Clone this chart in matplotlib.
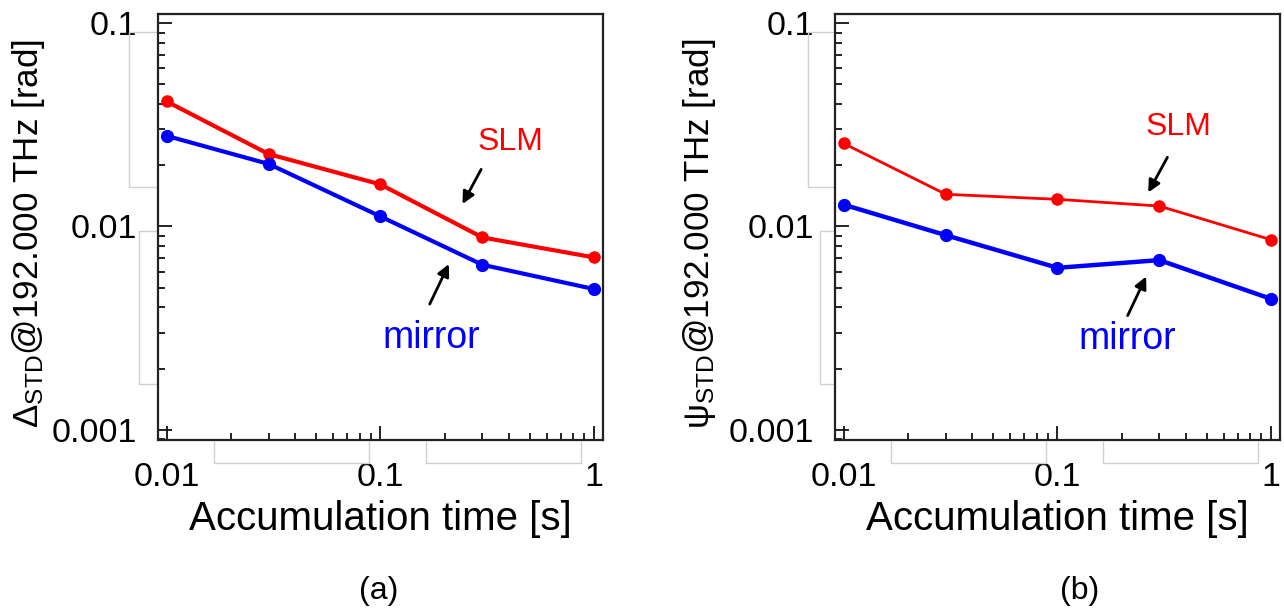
import matplotlib
matplotlib.use("Agg")
import matplotlib.pyplot as plt
from matplotlib.ticker import NullFormatter, LogLocator
from matplotlib.lines import Line2D

plt.rcParams['font.family'] = ['Liberation Sans', 'DejaVu Sans']
plt.rcParams['mathtext.fontset'] = 'custom'
plt.rcParams['mathtext.rm'] = 'Liberation Sans'
plt.rcParams['mathtext.it'] = 'Liberation Sans:italic'
plt.rcParams['mathtext.bf'] = 'Liberation Sans:bold'

# ---- data ----
acc_time = [0.01, 0.03, 0.1, 0.3, 1.0]
delta_slm = [0.0412, 0.0227, 0.0161, 0.00883, 0.00704]
delta_mirror = [0.0279, 0.0203, 0.0112, 0.00648, 0.00492]
psi_slm = [0.0256, 0.0144, 0.0136, 0.0126, 0.0086]
psi_mirror = [0.0128, 0.00906, 0.00626, 0.00683, 0.0044]

x_ticks = [0.01, 0.1, 1]
x_tick_labels = ["0.01", "0.1", "1"]
y_ticks = [0.001, 0.01, 0.1]
y_tick_labels = ["0.001", "0.01", "0.1"]

ylabels = ["Δ$_{\\mathrm{STD}}$@192.000 THz [rad]",
           "ψ$_{\\mathrm{STD}}$@192.000 THz [rad]"]
xlabel = "Accumulation time [s]"
panel_tags = ["(a)", "(b)"]

RED = "#ff0000"
BLUE = "#0000ff"

W, H = 1284, 611
fig = plt.figure(figsize=(W / 100, H / 100), dpi=100)

frames = [(158, 603), (835, 1280)]
top_px, bot_px = 14, 440

panels = [
    dict(slm=delta_slm, mirror=delta_mirror, lw_slm=3.0, lw_mir=3.0,
         slm_txt=(0.408, 0.0259), slm_arrow=((0.296, 0.0191), (0.242, 0.0129)),
         mir_txt=(0.173, 0.00284), mir_arrow=((0.17, 0.00415), (0.209, 0.00653)),
         ylabel_x=29, tag_x=379, brk=(-0.065, -0.042)),
    dict(slm=psi_slm, mirror=psi_mirror, lw_slm=2.0, lw_mir=3.2,
         slm_txt=(0.37, 0.0307), slm_arrow=((0.327, 0.0219), (0.266, 0.0147)),
         mir_txt=(0.213, 0.00279), mir_arrow=((0.213, 0.00364), (0.26, 0.00567)),
         ylabel_x=700, tag_x=1080, brk=(-0.061, -0.034)),
]

for i, (p, (l, r)) in enumerate(zip(panels, frames)):
    ax = fig.add_axes([l / W, 1 - bot_px / H, (r - l) / W, (bot_px - top_px) / H])
    ax.set_xscale('log')
    ax.set_yscale('log')
    ax.plot(acc_time, p['slm'], color=RED, lw=p['lw_slm'], marker='o', ms=8,
            solid_joinstyle='round')
    ax.plot(acc_time, p['mirror'], color=BLUE, lw=p['lw_mir'], marker='o', ms=8.5,
            solid_joinstyle='round')
    ax.set_xlim(0.0091, 1.1)
    ax.set_ylim(0.00089, 0.111)

    ax.set_xticks(x_ticks)
    ax.set_xticklabels(x_tick_labels)
    ax.set_yticks(y_ticks)
    ax.set_yticklabels(y_tick_labels)
    ax.xaxis.set_minor_locator(LogLocator(base=10, subs=range(2, 10)))
    ax.yaxis.set_minor_locator(LogLocator(base=10, subs=range(2, 10)))
    ax.xaxis.set_minor_formatter(NullFormatter())
    ax.yaxis.set_minor_formatter(NullFormatter())
    ax.tick_params(which='both', direction='in', top=False, right=False,
                   width=1.3, color='#111111')
    ax.tick_params(which='major', length=10, labelsize=24.5)
    ax.tick_params(which='minor', length=5)
    ax.tick_params(axis='x', which='major', pad=16)
    ax.tick_params(axis='y', which='major', pad=15)
    for s in ax.spines.values():
        s.set_linewidth(1.6)
        s.set_color('#222222')

    ax.set_xlabel(xlabel, fontsize=29)
    ax.xaxis.set_label_coords(0.5, -0.141)
    ax.xaxis.label.set_verticalalignment('top')

    fig.text(p['ylabel_x'] / W, 1 - 234 / H, ylabels[i], rotation=90,
             ha='center', va='center', fontsize=25.2)
    fig.text(p['tag_x'] / W, 1 - 591 / H, panel_tags[i], ha='center',
             va='center', fontsize=23)

    ax.text(*p['slm_txt'], "SLM", color=RED, fontsize=23, ha='center', va='center')
    ax.text(*p['mir_txt'], "mirror", color=BLUE, fontsize=27, ha='center', va='center')
    for tail, head in (p['slm_arrow'], p['mir_arrow']):
        ax.annotate("", xy=head, xytext=tail,
                    arrowprops=dict(arrowstyle='-|>', color='black', lw=2.0,
                                    mutation_scale=18, shrinkA=0, shrinkB=0))

    # faint grey bracket artifacts seen around the axes
    g = dict(color='#d0d0d0', lw=1.0, transform=ax.transAxes, clip_on=False)
    for x0, x1 in ((0.126, 0.474), (0.602, 0.951)):
        ax.add_line(Line2D([x0, x0, x1, x1], [-0.005, -0.054, -0.054, -0.005], **g))
    b1, b2 = p['brk']
    ax.add_line(Line2D([-0.004, b1, b1, -0.004], [0.958, 0.958, 0.594, 0.594], **g))
    ax.add_line(Line2D([-0.004, b2, b2, -0.004], [0.491, 0.491, 0.131, 0.131], **g))

fig.savefig("out.png", dpi=100)
